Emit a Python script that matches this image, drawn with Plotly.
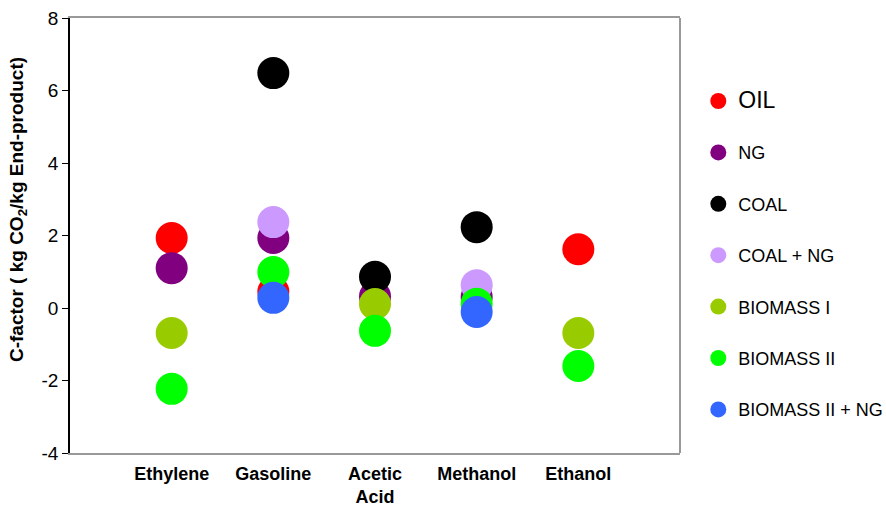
import plotly.graph_objects as go

categories = ["Ethylene", "Gasoline", "Acetic<br>Acid", "Methanol", "Ethanol"]

oil = [1.93, 0.45, None, None, 1.62]
ng = [1.10, 1.93, 0.32, 0.30, None]
coal = [None, 6.48, 0.86, 2.23, None]
coal_ng = [None, 2.37, None, 0.63, None]
biomass1 = [-0.69, None, 0.11, None, -0.69]
biomass2 = [-2.23, 0.99, -0.63, 0.12, -1.60]
biomass2_ng = [None, 0.28, None, -0.11, None]

y_tickvals = [-4, -2, 0, 2, 4, 6, 8]
y_ticktext = ["-4", "-2", "0", "2", "4", "6", "8"]

series = [
    ('<span style="font-size:23px">OIL</span>', oil, "#ff0000"),
    ("NG", ng, "#800080"),
    ("COAL", coal, "#000000"),
    ("COAL + NG", coal_ng, "#cc99ff"),
    ("BIOMASS I", biomass1, "#99cc00"),
    ("BIOMASS II", biomass2, "#00ff00"),
    ("BIOMASS II + NG", biomass2_ng, "#3366ff"),
]

fig = go.Figure()
for i, (name, vals, color) in enumerate(series):
    fig.add_trace(go.Scatter(
        x=categories, y=vals, mode="markers", name=name,
        legendgroup=f"g{i}",
        marker=dict(size=32, color=color, line=dict(width=0)),
    ))

fig.update_layout(
    width=886, height=506,
    margin=dict(l=70, r=206, t=18, b=53, autoexpand=False),
    paper_bgcolor="white", plot_bgcolor="white",
    font=dict(family="Arial, Liberation Sans, sans-serif", color="black"),
    showlegend=True,
    legend=dict(
        x=1.030, xanchor="left", y=0.851, yanchor="top",
        font=dict(size=18, color="black"),
        tracegroupgap=25, itemsizing="trace",
        bgcolor="rgba(0,0,0,0)",
    ),
    xaxis=dict(
        type="category", range=[-1, 5], automargin=False,
        showgrid=False, zeroline=False,
        showline=True, linecolor="#999999", linewidth=2, mirror=True,
        ticks="", tickfont=dict(size=18, weight="bold"),
        ticklabelstandoff=3,
    ),
    yaxis=dict(
        range=[-4, 8], tickvals=y_tickvals, ticktext=y_ticktext,
        automargin=False, showgrid=False, zeroline=False,
        showline=True, linecolor="black", linewidth=1.5,
        ticks="outside", ticklen=6, tickcolor="black",
        tickfont=dict(size=19),
    ),
    annotations=[dict(
        text="C-factor ( kg CO<sub>2</sub>/kg End-product)",
        textangle=-90, xref="paper", yref="paper",
        x=-0.0852, y=0.5586, xanchor="center", yanchor="middle",
        showarrow=False, font=dict(size=19, weight="bold"),
    )],
    shapes=[dict(type="line", xref="paper", yref="paper", x0=1, x1=1, y0=0, y1=1,
                 line=dict(color="#999999", width=2))],
)

fig.write_html(
    "out.html",
    config={"displayModeBar": False},
    post_script="document.body.style.margin='0';document.body.style.overflow='hidden';",
)
